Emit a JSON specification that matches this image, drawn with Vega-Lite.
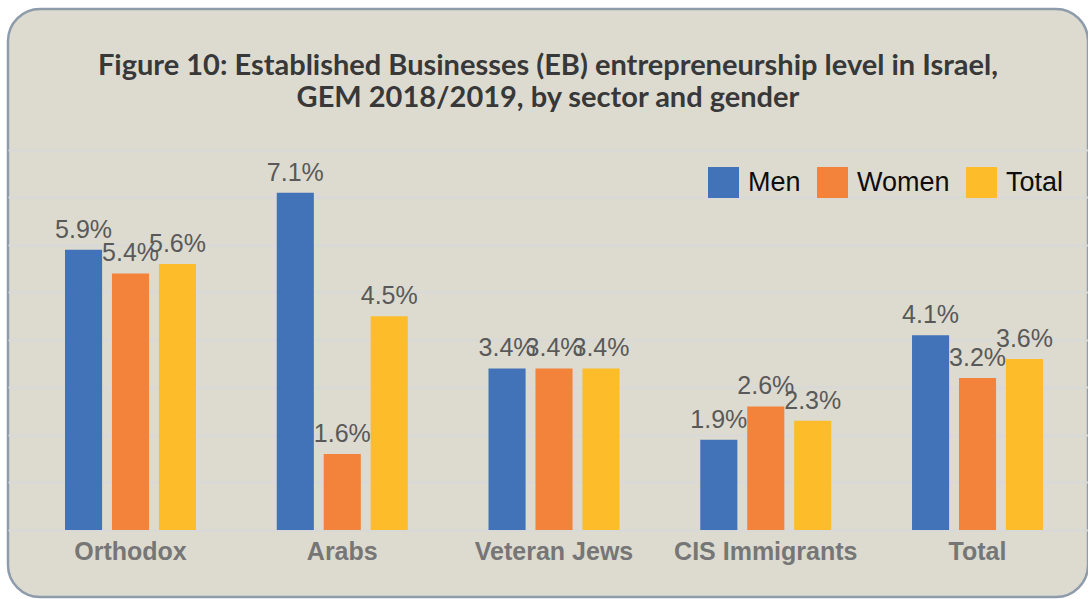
{
  "$schema": "https://vega.github.io/schema/vega-lite/v6.json",
  "width": 1080,
  "height": 588,
  "autosize": {"type": "none"},
  "padding": {"left": 8, "top": 9, "right": 0, "bottom": 2},
  "background": "#ffffff",
  "title": {
    "text": ["Figure 10: Established Businesses (EB) entrepreneurship level in Israel,", "GEM 2018/2019, by sector and gender"],
    "orient": "top",
    "anchor": "middle",
    "frame": "group",
    "offset": -104,
    "font": "Lato",
    "fontSize": 29,
    "fontWeight": "bold",
    "color": "#383838",
    "lineHeight": 32
  },
  "data": {
    "values": [
      {"sector": "Orthodox", "gender": "Men", "value": 0.059},
      {"sector": "Orthodox", "gender": "Women", "value": 0.054},
      {"sector": "Orthodox", "gender": "Total", "value": 0.056},
      {"sector": "Arabs", "gender": "Men", "value": 0.071},
      {"sector": "Arabs", "gender": "Women", "value": 0.016},
      {"sector": "Arabs", "gender": "Total", "value": 0.045},
      {"sector": "Veteran Jews", "gender": "Men", "value": 0.034},
      {"sector": "Veteran Jews", "gender": "Women", "value": 0.034},
      {"sector": "Veteran Jews", "gender": "Total", "value": 0.034},
      {"sector": "CIS Immigrants", "gender": "Men", "value": 0.019},
      {"sector": "CIS Immigrants", "gender": "Women", "value": 0.026},
      {"sector": "CIS Immigrants", "gender": "Total", "value": 0.023},
      {"sector": "Total", "gender": "Men", "value": 0.041},
      {"sector": "Total", "gender": "Women", "value": 0.032},
      {"sector": "Total", "gender": "Total", "value": 0.036}
    ]
  },
  "encoding": {
    "x": {
      "field": "sector",
      "type": "nominal",
      "sort": ["Orthodox", "Arabs", "Veteran Jews", "CIS Immigrants", "Total"],
      "scale": {"paddingInner": 0.3813, "paddingOuter": 0.2408, "align": 0.559},
      "axis": {
        "title": null,
        "orient": "bottom",
        "offset": -67,
        "domain": false,
        "ticks": false,
        "labelAngle": 0,
        "labelLimit": 0,
        "labelFont": "Liberation Sans",
        "labelFontSize": 25,
        "labelFontWeight": "bold",
        "labelColor": "#767676",
        "labelPadding": 9
      }
    },
    "xOffset": {
      "field": "gender",
      "type": "nominal",
      "sort": ["Men", "Women", "Total"],
      "scale": {"paddingInner": 0.21, "paddingOuter": 0}
    },
    "y": {
      "field": "value",
      "type": "quantitative",
      "scale": {"domain": [-0.01411, 0.10968], "nice": false, "zero": false},
      "axis": {
        "title": null,
        "values": [0, 0.01, 0.02, 0.03, 0.04, 0.05, 0.06, 0.07, 0.08],
        "labels": false,
        "ticks": false,
        "domain": false,
        "grid": true,
        "gridColor": "#d8d8d8",
        "gridWidth": 2
      }
    }
  },
  "layer": [
    {
      "mark": {"type": "bar"},
      "encoding": {
        "y2": {"datum": 0},
        "color": {
          "field": "gender",
          "type": "nominal",
          "sort": ["Men", "Women", "Total"],
          "scale": {"domain": ["Men", "Women", "Total"], "range": ["#4272b8", "#f3823a", "#fdbc2a"]},
          "legend": {
            "title": null,
            "orient": "none",
            "direction": "horizontal",
            "legendX": 700,
            "legendY": 158,
            "symbolType": "square",
            "symbolSize": 961,
            "symbolStrokeWidth": 0,
            "labelFont": "Liberation Sans",
            "labelFontSize": 27,
            "labelColor": "#0d0d0d",
            "labelOffset": 9,
            "columnPadding": 16,
            "padding": 0
          }
        }
      }
    },
    {
      "mark": {
        "type": "text",
        "baseline": "alphabetic",
        "dy": -12,
        "font": "Liberation Sans",
        "fontSize": 25,
        "color": "#595959"
      },
      "encoding": {
        "text": {"field": "value", "type": "quantitative", "format": ".1%"}
      }
    }
  ],
  "config": {
    "view": {
      "fill": "#dddbd0",
      "stroke": "#8e9bab",
      "strokeWidth": 2.5,
      "cornerRadius": 32
    }
  }
}
